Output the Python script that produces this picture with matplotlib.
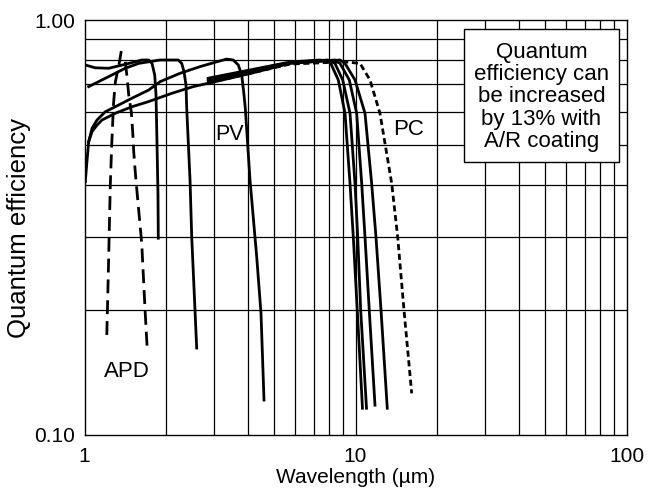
import matplotlib.pyplot as plt
from matplotlib.patches import Rectangle
from matplotlib.ticker import FixedLocator, NullFormatter

plt.rcParams['font.family'] = ['Liberation Sans', 'DejaVu Sans']

# ---- data (wavelength in um, quantum efficiency) ----
apd1_x = [1.367, 1.34, 1.30, 1.28, 1.26, 1.245, 1.225, 1.207]
apd1_y = [0.842, 0.78, 0.71, 0.63, 0.50, 0.40, 0.25, 0.168]

apd2_x = [1.414, 1.435, 1.456, 1.488, 1.506, 1.519, 1.539, 1.562, 1.626, 1.673, 1.705]
apd2_y = [0.793, 0.730, 0.660, 0.601, 0.538, 0.482, 0.431, 0.386, 0.290, 0.200, 0.160]

ingaas_x = [1.007, 1.096, 1.228, 1.414, 1.63, 1.725, 1.775, 1.816, 1.836, 1.852, 1.867, 1.872]
ingaas_y = [0.779, 0.767, 0.765, 0.782, 0.801, 0.801, 0.786, 0.737, 0.660, 0.500, 0.379, 0.298]

ge_x = [1.036, 1.16, 1.299, 1.414, 1.585, 1.899, 2.068, 2.219, 2.284, 2.329, 2.369,
        2.383, 2.451, 2.487, 2.557, 2.594]
ge_y = [0.691, 0.717, 0.744, 0.765, 0.786, 0.801, 0.801, 0.801, 0.786, 0.751, 0.697,
        0.614, 0.412, 0.300, 0.200, 0.162]

pv_x = [1.036, 1.066, 1.112, 1.193, 1.299, 1.497, 1.725, 1.899, 2.251, 2.668, 3.075,
        3.347, 3.54, 3.694, 3.803, 3.878, 3.921, 4.08, 4.319, 4.48, 4.596]
pv_y = [0.509, 0.548, 0.574, 0.601, 0.618, 0.648, 0.678, 0.710, 0.744, 0.772, 0.793,
        0.805, 0.801, 0.779, 0.737, 0.660, 0.613, 0.412, 0.269, 0.1965, 0.1214]

long_x = [1.007, 1.021, 1.036, 1.066, 1.112, 1.16, 1.299, 1.497, 1.725, 2.103, 2.52,
          2.862, 4.08, 5.732, 8.767, 9.148, 9.958, 10.84, 11.47, 11.90, 12.42, 13.10]
long_y = [0.408, 0.456, 0.509, 0.538, 0.558, 0.574, 0.596, 0.618, 0.636, 0.666, 0.691,
          0.704, 0.743, 0.786, 0.801, 0.786, 0.717, 0.596, 0.404, 0.300, 0.200, 0.116]

lw1_x = [2.862, 5.732, 7.396, 8.053, 8.64, 9.148, 9.543, 9.815, 10.15, 10.61]
lw1_y = [0.724, 0.792, 0.801, 0.793, 0.717, 0.596, 0.404, 0.300, 0.200, 0.116]

lw2_x = [2.862, 5.732, 7.915, 8.40, 8.971, 9.543, 9.958, 10.19, 10.45, 10.98]
lw2_y = [0.719, 0.790, 0.801, 0.786, 0.717, 0.596, 0.404, 0.300, 0.200, 0.116]

lw3_x = [2.862, 5.732, 8.40, 8.767, 9.486, 10.10, 10.54, 10.84, 11.24, 11.80]
lw3_y = [0.713, 0.788, 0.801, 0.786, 0.717, 0.596, 0.404, 0.300, 0.200, 0.118]

pc_x = [2.862, 5.732, 9.148, 10.39, 11.31, 12.31, 13.60, 14.31, 15.10, 16.12]
pc_y = [0.705, 0.783, 0.793, 0.786, 0.717, 0.596, 0.404, 0.300, 0.200, 0.126]

x_grid = [2, 3, 4, 5, 6, 7, 8, 9, 10, 20, 30, 40, 50, 60, 70, 80, 90]
y_grid = [0.2, 0.3, 0.4, 0.5, 0.6, 0.7, 0.8, 0.9]

note = "Quantum\nefficiency can\nbe increased\nby 13% with\nA/R coating"

# ---- figure ----
fig = plt.figure(figsize=(6.6, 4.93), dpi=100)
ax = fig.add_axes([84.5 / 660, 58 / 493, 542 / 660, 415 / 493])
ax.set_xscale("log")
ax.set_yscale("log")
ax.set_xlim(1, 100)
ax.set_ylim(0.1, 1.0)

# grid
for gx in x_grid:
    ax.axvline(gx, color="black", lw=0.9, zorder=1)
for gy in y_grid:
    ax.axhline(gy, color="black", lw=0.9, zorder=1)

ax.xaxis.set_major_locator(FixedLocator([1, 10, 100]))
ax.set_xticklabels(["1", "10", "100"])
ax.xaxis.set_minor_formatter(NullFormatter())
ax.yaxis.set_major_locator(FixedLocator([0.1, 1.0]))
ax.set_yticklabels(["0.10", "1.00"])
ax.yaxis.set_minor_formatter(NullFormatter())
ax.tick_params(which="both", length=0, labelsize=15)
ax.tick_params(axis="x", pad=9)
ax.tick_params(axis="y", pad=7)
for s in ax.spines.values():
    s.set_linewidth(1.0)

# curves
dash = (0, (5, 2.5))
dots = (0, (2.2, 1.3))
ax.plot(apd1_x, apd1_y, color="black", lw=2.0, ls=dash, zorder=3)
ax.plot(apd2_x, apd2_y, color="black", lw=2.0, ls=dash, zorder=3)
for cx, cy in [(ingaas_x, ingaas_y), (ge_x, ge_y), (pv_x, pv_y), (long_x, long_y),
               (lw1_x, lw1_y), (lw2_x, lw2_y), (lw3_x, lw3_y)]:
    ax.plot(cx, cy, color="black", lw=2.0, zorder=3, solid_joinstyle="round")
ax.plot(pc_x, pc_y, color="black", lw=2.0, ls=dots, zorder=3)

# labels on curves
ax.text(3.44, 0.531, "PV", fontsize=15.5, ha="center", va="center", zorder=4)
ax.text(15.7, 0.545, "PC", fontsize=16, ha="center", va="center", zorder=4)
ax.text(1.435, 0.1426, "APD", fontsize=16, ha="center", va="center", zorder=4)

# note box
box = Rectangle((0.700, 0.658), 0.286, 0.320, transform=ax.transAxes,
                facecolor="white", edgecolor="black", lw=1.0, zorder=5)
ax.add_patch(box)
ax.text(0.843, 0.815, note, transform=ax.transAxes, ha="center", va="center",
        fontsize=16, linespacing=1.08, zorder=6)

ax.set_xlabel("Wavelength (µm)", fontsize=15, labelpad=1)
ax.set_ylabel("Quantum efficiency", fontsize=18.5, labelpad=2)

fig.savefig("out.png", dpi=100)
